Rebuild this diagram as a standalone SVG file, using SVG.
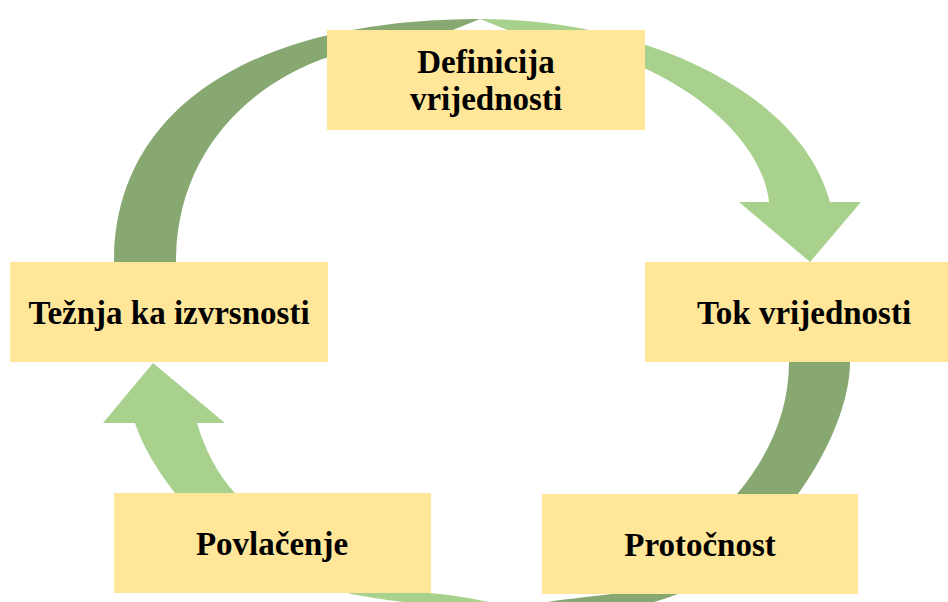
<svg xmlns="http://www.w3.org/2000/svg" width="948" height="602" viewBox="0 0 948 602">
  <style>
    .box { fill: #FFE699; }
    .lbl { font-family: "Liberation Serif", "Times New Roman", serif; font-weight: bold; font-size: 33px; fill: #000; text-anchor: middle; }
    .light { fill: #A9D18E; }
    .dark { fill: #87A870; }
  </style>
  <rect width="948" height="602" fill="#FFFFFF"/>
  <g id="connectors">
    <path id="arc-left" class="dark" d="M114,340 L114,262 C114,110 250,19 480,19 L428,40 C285,42 176,130 176,262 L176,340 Z"/>
    <path id="arc-top-right" class="light" d="M480,19 C640,19 800,90 830,202 L861,202 L810,262 L739,202 L769,202 C760,120 640,45 532,40 Z"/>
    <path id="arc-right-bottom" class="dark" d="M851,300 L850,362 C850,400 830,450 798,494 C765,545 710,588 650,603 L515,608 C550,600 590,597 620,593 C660,585 700,540 737,494 C770,455 789,410 789,362 L789,300 Z"/>
    <path id="arc-bottom-left" class="light" d="M153,363 L225,423 L197,423 C205,450 218,475 235,493 C290,555 380,590 430,593 C455,595 480,600 508,606 L440,606 C400,602 370,598 347,593 C260,570 200,530 175,493 C157,470 142,445 135,423 L103,423 Z"/>
  </g>
  <g id="node-definicija">
    <rect class="box" x="327" y="30" width="318" height="100"/>
    <text class="lbl" x="486" y="73">Definicija</text>
    <text class="lbl" x="486" y="110">vrijednosti</text>
  </g>
  <g id="node-tok">
    <rect class="box" x="645" y="262" width="318" height="100"/>
    <text class="lbl" x="804" y="324">Tok vrijednosti</text>
  </g>
  <g id="node-protocnost">
    <rect class="box" x="542" y="494" width="316" height="100"/>
    <text class="lbl" x="700" y="556">Protočnost</text>
  </g>
  <g id="node-povlacenje">
    <rect class="box" x="114" y="493" width="317" height="100"/>
    <text class="lbl" x="272" y="555">Povlačenje</text>
  </g>
  <g id="node-teznja">
    <rect class="box" x="10" y="262" width="318" height="100"/>
    <text class="lbl" x="169" y="324">Težnja ka izvrsnosti</text>
  </g>
</svg>
